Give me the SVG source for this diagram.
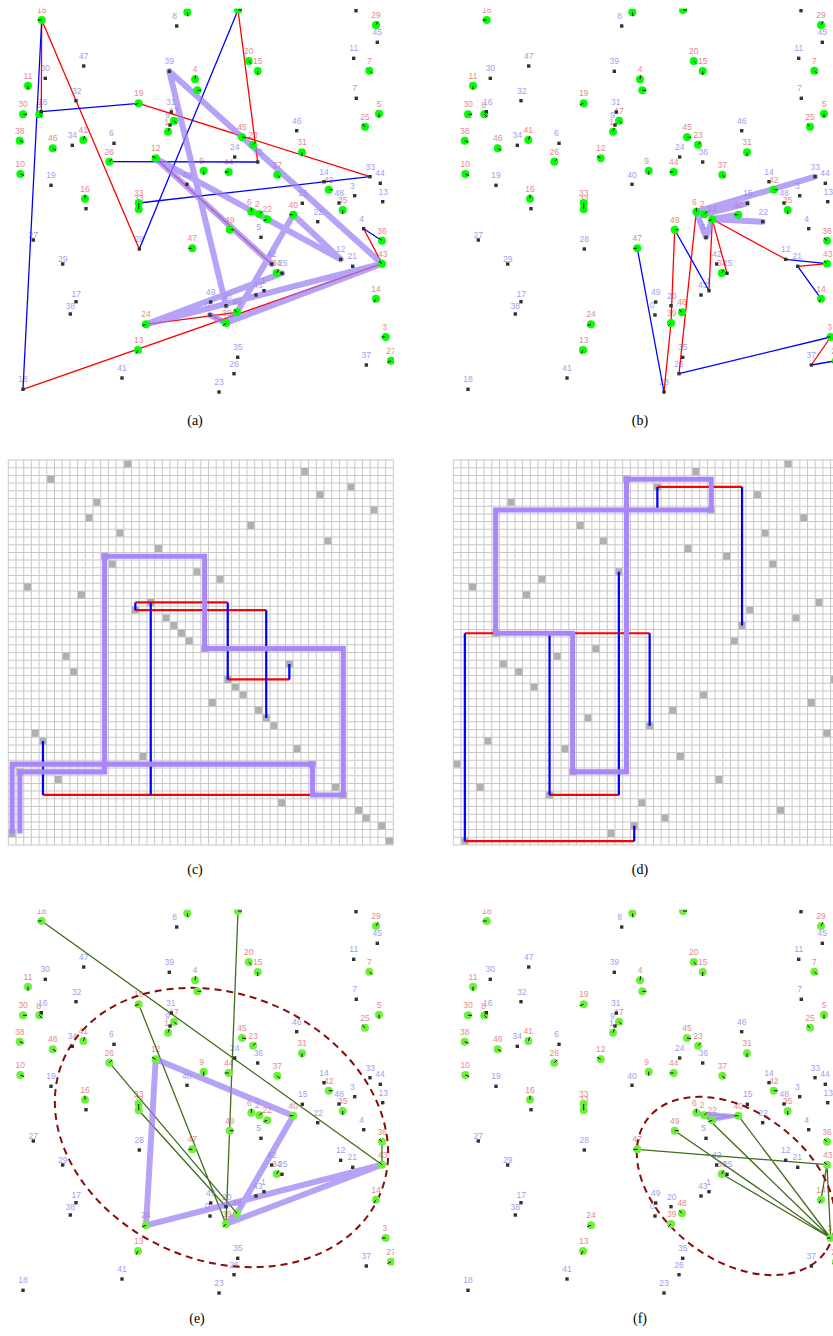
<svg xmlns="http://www.w3.org/2000/svg" xmlns:xlink="http://www.w3.org/1999/xlink" width="833" height="1336" viewBox="0 0 833 1336">
<style>
.lb text{font-family:"Liberation Sans",Arial,sans-serif;font-size:8.5px;text-anchor:middle}
.r{fill:#e48c8c}
.b{fill:#a0a0f0}
.sq rect{fill:#333}
.tk{stroke:#000;stroke-width:0.9;fill:none}
.red{stroke:#f00;stroke-width:1.3;fill:none}
.blue{stroke:#00f;stroke-width:1.3;fill:none}
.pur{stroke:#9a7ef2;stroke-opacity:0.72;stroke-width:6;fill:none;stroke-linecap:round;stroke-linejoin:round}
.dg{stroke:#3f6e1c;stroke-width:1.3;fill:none}
.ell{fill:none;stroke:#8b0a0a;stroke-width:2;stroke-dasharray:7,5}
.grid{stroke:#c8c8c8;stroke-width:0.13;fill:none}
.cell{fill:#b0b0b0}
.gred{stroke:#f00;stroke-width:0.29;fill:none}
.gblue{stroke:#00f;stroke-width:0.29;fill:none}
.gpur{stroke:#a987fb;stroke-width:0.66;fill:none;stroke-linejoin:miter}
.cap{font-family:"Liberation Serif","Times New Roman",serif;font-size:14px;text-anchor:middle;fill:#000}
</style>
<defs>
<clipPath id="ca"><rect x="0" y="8.5" width="394" height="400"/></clipPath>
<clipPath id="cb"><rect x="445" y="8.5" width="394" height="400"/></clipPath>
<clipPath id="ce"><rect x="0" y="909.5" width="394" height="400"/></clipPath>
<clipPath id="cf"><rect x="445" y="909.5" width="394" height="400"/></clipPath>
<g id="lbl" class="lb">
<text class="r" x="41.7" y="13">18</text><text class="r" x="376" y="18">29</text><text class="r" x="248.7" y="54">20</text><text class="r" x="257.7" y="64">15</text><text class="r" x="369.3" y="63.7">7</text><text class="r" x="195" y="72.3">4</text><text class="r" x="28" y="78.7">11</text><text class="r" x="138.7" y="96.3">19</text><text class="r" x="379" y="106.7">5</text><text class="r" x="23" y="107.3">30</text><text class="r" x="38.5" y="107.5">8</text><text class="r" x="174" y="113.7">17</text><text class="r" x="166.5" y="124.7">1</text><text class="r" x="365" y="119.7">25</text><text class="r" x="19.7" y="133.7">38</text><text class="r" x="52.7" y="141.3">46</text><text class="r" x="83.3" y="133">41</text><text class="r" x="242" y="130">45</text><text class="r" x="253" y="137.7">23</text><text class="r" x="302" y="145.3">31</text><text class="r" x="155.7" y="151.3">12</text><text class="r" x="109.3" y="154.7">26</text><text class="r" x="20.3" y="167">10</text><text class="r" x="201.7" y="163.7">9</text><text class="r" x="228.7" y="165">44</text><text class="r" x="277.3" y="167.7">37</text><text class="r" x="328.7" y="182.7">42</text><text class="r" x="342.7" y="203">35</text><text class="r" x="85" y="191.7">16</text><text class="r" x="138.7" y="196">33</text><text class="r" x="138.7" y="201">33</text><text class="r" x="249.3" y="204.7">6</text><text class="r" x="257" y="207.3">2</text><text class="r" x="267.3" y="212.3">22</text><text class="r" x="293.3" y="207.7">40</text><text class="r" x="229.7" y="222.7">49</text><text class="r" x="192.3" y="241.3">47</text><text class="r" x="382" y="233.7">36</text><text class="r" x="382.7" y="256.7">43</text><text class="r" x="276.7" y="266">34</text><text class="r" x="376" y="291.7">14</text><text class="r" x="237" y="305.3">48</text><text class="r" x="226.7" y="316">39</text><text class="r" x="146" y="317.3">24</text><text class="r" x="384.7" y="330">3</text><text class="r" x="391" y="353.7">27</text><text class="r" x="138.7" y="343">13</text>
<text class="b" x="174.5" y="19">8</text><text class="b" x="377.3" y="35.3">45</text><text class="b" x="83.7" y="59">47</text><text class="b" x="353.7" y="51.3">11</text><text class="b" x="169.3" y="64.3">39</text><text class="b" x="45.3" y="71.3">30</text><text class="b" x="354.7" y="91.3">7</text><text class="b" x="76.7" y="93.7">32</text><text class="b" x="42.7" y="104.7">16</text><text class="b" x="170.7" y="104.7">31</text><text class="b" x="167.7" y="118">9</text><text class="b" x="72.3" y="138.3">34</text><text class="b" x="111.3" y="136.3">6</text><text class="b" x="296.7" y="123.7">46</text><text class="b" x="234.7" y="150">24</text><text class="b" x="258.3" y="155">36</text><text class="b" x="187" y="177.6">40</text><text class="b" x="51" y="178.3">19</text><text class="b" x="370.3" y="169.7">33</text><text class="b" x="380" y="176.3">44</text><text class="b" x="324" y="174.7">14</text><text class="b" x="352.3" y="188.7">3</text><text class="b" x="383.3" y="194.7">13</text><text class="b" x="339.3" y="196">48</text><text class="b" x="302.7" y="196.3">15</text><text class="b" x="33.3" y="238">27</text><text class="b" x="62.7" y="262">29</text><text class="b" x="76.3" y="296.7">17</text><text class="b" x="70.3" y="309">38</text><text class="b" x="139.3" y="242">28</text><text class="b" x="318.3" y="214.7">22</text><text class="b" x="258.7" y="230.3">5</text><text class="b" x="361.7" y="221.7">4</text><text class="b" x="340.7" y="252.3">12</text><text class="b" x="352.3" y="259.3">21</text><text class="b" x="271.7" y="257">42</text><text class="b" x="282.7" y="266.3">25</text><text class="b" x="263.3" y="283.7">1</text><text class="b" x="257.7" y="288.3">43</text><text class="b" x="210.7" y="295">49</text><text class="b" x="226.7" y="298.7">20</text><text class="b" x="207.3" y="308">0</text><text class="b" x="237.7" y="350.3">35</text><text class="b" x="234" y="366.7">26</text><text class="b" x="219" y="385">23</text><text class="b" x="122" y="371">41</text><text class="b" x="366.3" y="358">37</text><text class="b" x="23" y="382.3">18</text>
</g>
<g id="greens">
<g id="n-g18"><circle cx="41.7" cy="20" r="4"/><path class="tk" d="M41.7 20l-4 0"/></g>
<g id="n-gA"><circle cx="187.3" cy="12.3" r="4"/><path class="tk" d="M187.3 12.3l0.7 4"/></g>
<g id="n-gB"><circle cx="238" cy="10" r="4"/><path class="tk" d="M238 10l4 0"/></g>
<g id="n-g29"><circle cx="376" cy="25" r="4"/><path class="tk" d="M376 25l2 -3.5"/></g>
<g id="n-g20"><circle cx="248.7" cy="61" r="4"/><path class="tk" d="M248.7 61l2.8 2.8"/></g>
<g id="n-g15"><circle cx="257.7" cy="71" r="4"/><path class="tk" d="M257.7 71l0 4"/></g>
<g id="n-g7"><circle cx="369.3" cy="70.7" r="4"/><path class="tk" d="M369.3 70.7l2.8 2.8"/></g>
<g id="n-g4"><circle cx="195" cy="79.3" r="4"/><path class="tk" d="M195 79.3l0.7 -4"/></g>
<g id="n-gC"><circle cx="197.3" cy="90.3" r="4"/><path class="tk" d="M197.3 90.3l4 0"/></g>
<g id="n-g11"><circle cx="28" cy="85.7" r="4"/><path class="tk" d="M28 85.7l0 4"/></g>
<g id="n-g19"><circle cx="138.7" cy="103.3" r="4"/><path class="tk" d="M138.7 103.3l-3.8 1.4"/></g>
<g id="n-g5"><circle cx="379" cy="113.7" r="4"/><path class="tk" d="M379 113.7l0 4"/></g>
<g id="n-g30"><circle cx="23" cy="114.3" r="4"/><path class="tk" d="M23 114.3l4 0"/></g>
<g id="n-g8"><circle cx="39.3" cy="114.3" r="4"/><path class="tk" d="M39.3 114.3l2.8 2.8"/></g>
<g id="n-g17"><circle cx="174" cy="120.7" r="4"/><path class="tk" d="M174 120.7l2.8 2.8"/></g>
<g id="n-g1"><circle cx="168" cy="131.7" r="4"/><path class="tk" d="M168 131.7l1.4 -3.8"/></g>
<g id="n-g25"><circle cx="365" cy="126.7" r="4"/><path class="tk" d="M365 126.7l-2.8 -2.8"/></g>
<g id="n-g38"><circle cx="19.7" cy="140.7" r="4"/><path class="tk" d="M19.7 140.7l3.7 1.5"/></g>
<g id="n-g46"><circle cx="52.7" cy="148.3" r="4"/><path class="tk" d="M52.7 148.3l3.5 2"/></g>
<g id="n-g41"><circle cx="83.3" cy="140" r="4"/><path class="tk" d="M83.3 140l1.4 -3.8"/></g>
<g id="n-g45"><circle cx="242" cy="137" r="4"/><path class="tk" d="M242 137l4 0.7"/></g>
<g id="n-g23"><circle cx="253" cy="144.7" r="4"/><path class="tk" d="M253 144.7l2.8 -2.8"/></g>
<g id="n-g31"><circle cx="302" cy="152.3" r="4"/><path class="tk" d="M302 152.3l0 4"/></g>
<g id="n-g12"><circle cx="155.7" cy="158.3" r="4"/><path class="tk" d="M155.7 158.3l-3.5 -2"/></g>
<g id="n-g26"><circle cx="109.3" cy="161.7" r="4"/><path class="tk" d="M109.3 161.7l2.8 -2.8"/></g>
<g id="n-g10"><circle cx="20.3" cy="174" r="4"/><path class="tk" d="M20.3 174l3.7 1.5"/></g>
<g id="n-g9"><circle cx="203.7" cy="170.7" r="4"/><path class="tk" d="M203.7 170.7l0 4"/></g>
<g id="n-g44"><circle cx="228.7" cy="172" r="4"/><path class="tk" d="M228.7 172l-4 0"/></g>
<g id="n-g37"><circle cx="277.3" cy="174.7" r="4"/><path class="tk" d="M277.3 174.7l2.5 3"/></g>
<g id="n-g42"><circle cx="328.7" cy="189.7" r="4"/><path class="tk" d="M328.7 189.7l4 0"/></g>
<g id="n-g35"><circle cx="342.7" cy="210" r="4"/><path class="tk" d="M342.7 210l0 4"/></g>
<g id="n-g16"><circle cx="85" cy="198.7" r="4"/><path class="tk" d="M85 198.7l0 -4"/></g>
<g id="n-g33"><circle cx="138.7" cy="203" r="4"/><path class="tk" d="M138.7 203l0 4"/></g>
<g id="n-g33b"><circle cx="138.7" cy="209.3" r="4"/><path class="tk" d="M138.7 209.3l0 -4"/></g>
<g id="n-g6"><circle cx="251.3" cy="211.7" r="4"/><path class="tk" d="M251.3 211.7l0 -4"/></g>
<g id="n-g2"><circle cx="259.3" cy="214.3" r="4"/><path class="tk" d="M259.3 214.3l2.8 -2.8"/></g>
<g id="n-g22"><circle cx="267.3" cy="219.3" r="4"/><path class="tk" d="M267.3 219.3l-3.8 1.4"/></g>
<g id="n-g40"><circle cx="293.3" cy="214.7" r="4"/><path class="tk" d="M293.3 214.7l-4 0"/></g>
<g id="n-g49"><circle cx="229.7" cy="229.7" r="4"/><path class="tk" d="M229.7 229.7l4 0"/></g>
<g id="n-g47"><circle cx="192.3" cy="248.3" r="4"/><path class="tk" d="M192.3 248.3l-4 0"/></g>
<g id="n-g36"><circle cx="382" cy="240.7" r="4"/><path class="tk" d="M382 240.7l-3 -2.6"/></g>
<g id="n-g43"><circle cx="382" cy="263.7" r="4"/><path class="tk" d="M382 263.7l-3 -2.6"/></g>
<g id="n-g34"><circle cx="276.7" cy="273" r="4"/><path class="tk" d="M276.7 273l2 -3.5"/></g>
<g id="n-g14"><circle cx="376" cy="298.7" r="4"/><path class="tk" d="M376 298.7l-2 3.5"/></g>
<g id="n-g48"><circle cx="237" cy="312.3" r="4"/><path class="tk" d="M237 312.3l-2.8 -2.8"/></g>
<g id="n-g39"><circle cx="226" cy="323" r="4"/><path class="tk" d="M226 323l-2.8 2.8"/></g>
<g id="n-g24"><circle cx="146" cy="324.3" r="4"/><path class="tk" d="M146 324.3l-3.8 1.4"/></g>
<g id="n-g3"><circle cx="385.7" cy="337" r="4"/><path class="tk" d="M385.7 337l-4 0"/></g>
<g id="n-g27"><circle cx="391" cy="360.7" r="4"/><path class="tk" d="M391 360.7l-3.5 2"/></g>
<g id="n-g13"><circle cx="138" cy="350" r="4"/><path class="tk" d="M138 350l-2 3.5"/></g>
</g>
<g id="squares" class="sq">
<rect id="n-s8" x="175" y="24.3" width="3.4" height="3.4"/><rect id="n-s2" x="354.3" y="9" width="3.4" height="3.4"/><rect id="n-s45" x="375.6" y="40.6" width="3.4" height="3.4"/><rect id="n-s47" x="82" y="64.3" width="3.4" height="3.4"/><rect id="n-s11" x="352" y="56.6" width="3.4" height="3.4"/><rect id="n-s39" x="167.6" y="69.6" width="3.4" height="3.4"/><rect id="n-s30" x="43.6" y="76.6" width="3.4" height="3.4"/><rect id="n-s7" x="354.6" y="96.6" width="3.4" height="3.4"/><rect id="n-s32" x="74.3" y="99" width="3.4" height="3.4"/><rect id="n-s16" x="39.6" y="110" width="3.4" height="3.4"/><rect id="n-s31" x="169.6" y="110.3" width="3.4" height="3.4"/><rect id="n-s9" x="168.3" y="123.3" width="3.4" height="3.4"/><rect id="n-s34" x="70.6" y="143.6" width="3.4" height="3.4"/><rect id="n-s6" x="112.3" y="141.6" width="3.4" height="3.4"/><rect id="n-s46" x="295" y="129" width="3.4" height="3.4"/><rect id="n-s24" x="233" y="155.3" width="3.4" height="3.4"/><rect id="n-s36" x="256" y="160.3" width="3.4" height="3.4"/><rect id="n-s40" x="185.3" y="182.6" width="3.4" height="3.4"/><rect id="n-s19" x="49.3" y="183.6" width="3.4" height="3.4"/><rect id="n-s33" x="368.3" y="175" width="3.4" height="3.4"/><rect id="n-s44" x="378.6" y="181.6" width="3.4" height="3.4"/><rect id="n-s14" x="322.3" y="180" width="3.4" height="3.4"/><rect id="n-s3" x="353" y="194" width="3.4" height="3.4"/><rect id="n-s13" x="381" y="200" width="3.4" height="3.4"/><rect id="n-s48" x="337.3" y="201.3" width="3.4" height="3.4"/><rect id="n-s15" x="300.6" y="201.6" width="3.4" height="3.4"/><rect id="n-s10" x="84.3" y="207" width="3.4" height="3.4"/><rect id="n-s27" x="31.6" y="238.3" width="3.4" height="3.4"/><rect id="n-s29" x="61" y="262.3" width="3.4" height="3.4"/><rect id="n-s17" x="74.3" y="300" width="3.4" height="3.4"/><rect id="n-s38" x="68.6" y="312.3" width="3.4" height="3.4"/><rect id="n-s28" x="137.6" y="247.3" width="3.4" height="3.4"/><rect id="n-s22" x="316" y="220" width="3.4" height="3.4"/><rect id="n-s5" x="259.3" y="235.6" width="3.4" height="3.4"/><rect id="n-s4" x="362" y="227" width="3.4" height="3.4"/><rect id="n-s12" x="339" y="257.6" width="3.4" height="3.4"/><rect id="n-s21" x="351" y="264.6" width="3.4" height="3.4"/><rect id="n-s42" x="270" y="262.3" width="3.4" height="3.4"/><rect id="n-s25" x="280.3" y="271.6" width="3.4" height="3.4"/><rect id="n-s1" x="262.3" y="289" width="3.4" height="3.4"/><rect id="n-s43" x="254.3" y="293.3" width="3.4" height="3.4"/><rect id="n-s49" x="209" y="300.3" width="3.4" height="3.4"/><rect id="n-s20" x="224.3" y="304" width="3.4" height="3.4"/><rect id="n-s0" x="208.3" y="313.3" width="3.4" height="3.4"/><rect id="n-s35" x="236" y="355.6" width="3.4" height="3.4"/><rect id="n-s26" x="232.3" y="372" width="3.4" height="3.4"/><rect id="n-s23" x="217.3" y="390.3" width="3.4" height="3.4"/><rect id="n-s41" x="120.3" y="376.3" width="3.4" height="3.4"/><rect id="n-s37" x="364.6" y="363.3" width="3.4" height="3.4"/><rect id="n-s18" x="21.3" y="387.6" width="3.4" height="3.4"/>
</g>
<path id="gridlines" class="grid" d="M0 0v50M1 0v50M2 0v50M3 0v50M4 0v50M5 0v50M6 0v50M7 0v50M8 0v50M9 0v50M10 0v50M11 0v50M12 0v50M13 0v50M14 0v50M15 0v50M16 0v50M17 0v50M18 0v50M19 0v50M20 0v50M21 0v50M22 0v50M23 0v50M24 0v50M25 0v50M26 0v50M27 0v50M28 0v50M29 0v50M30 0v50M31 0v50M32 0v50M33 0v50M34 0v50M35 0v50M36 0v50M37 0v50M38 0v50M39 0v50M40 0v50M41 0v50M42 0v50M43 0v50M44 0v50M45 0v50M46 0v50M47 0v50M48 0v50M49 0v50M50 0v50M0 0h50M0 1h50M0 2h50M0 3h50M0 4h50M0 5h50M0 6h50M0 7h50M0 8h50M0 9h50M0 10h50M0 11h50M0 12h50M0 13h50M0 14h50M0 15h50M0 16h50M0 17h50M0 18h50M0 19h50M0 20h50M0 21h50M0 22h50M0 23h50M0 24h50M0 25h50M0 26h50M0 27h50M0 28h50M0 29h50M0 30h50M0 31h50M0 32h50M0 33h50M0 34h50M0 35h50M0 36h50M0 37h50M0 38h50M0 39h50M0 40h50M0 41h50M0 42h50M0 43h50M0 44h50M0 45h50M0 46h50M0 47h50M0 48h50M0 49h50M0 50h50"/>
</defs>
<rect width="833" height="1336" fill="#fff"/>

<!-- panel a -->
<g id="panel-a" clip-path="url(#ca)">
<use href="#lbl"/>
<g id="connectors-a">
<path class="red" d="M41.7 20L41.3 111.7M41.7 20L139.3 249M138.7 103.3L370 176.7M238 10L257.7 162M363.7 228.7L382 263.7M23 389.3L382 263.7M155.7 158.3L271.7 264M146 324.3L237 312.3M210 315L226 323"/>
<path class="blue" d="M41.7 20L23 389.3M41.3 111.7L138.7 103.3M109.3 161.7L257.7 162M238 10L139.3 249M138.7 203L370 176.7M363.7 228.7L382 240.7"/>
<path class="pur" d="M169.3 71.3L226 305.7M169.3 71.3L382 263.7M155.7 158.3L340.7 259.3M155.7 158.3L271.7 264M293.3 214.7L340.7 259.3M293.3 214.7L237 312.3M146 324.3L282 273.3M146 324.3L382 263.7M226 323L382 263.7M210 315L226 323L237 312.3"/>
</g>
<use href="#greens" fill="#00ff00"/>
<use href="#squares"/>
</g>

<!-- panel b -->
<g id="panel-b" clip-path="url(#cb)">
<g transform="translate(445,0)">
<use href="#lbl"/>
<g id="connectors-b">
<path class="red" d="M229.7 229.7L226 323L219 392M264 290.7L267.3 219.3M251.3 211.7L234 373.7M267.3 219.3L282 273.3M267.3 219.3L340.7 259.3M352.7 266.3L382 263.7M385.7 337L366.3 365"/>
<path class="blue" d="M192.3 248.3L219 392M229.7 229.7L264 290.7M340.7 259.3L382 263.7M352.7 266.3L376 298.7M234 373.7L385.7 337M366.3 365L391 360.7"/>
<path class="pur" d="M251.3 211.7L261 237.3L267.3 219.3M251.3 211.7L370 176.7M259.3 214.3L302.3 203.3M267.3 219.3L293.3 214.7M267.3 219.3L317.7 221.7"/>
</g>
<use href="#greens" fill="#00ff00"/>
<use href="#squares"/>
</g>
</g>

<!-- panel c -->
<g id="panel-c" transform="translate(8.3,460) scale(7.7)">
<use href="#gridlines"/>
<path class="cell" d="M15.05 0.05h.9v.9h-.9zM5.05 2.05h.9v.9h-.9zM38.05 1.05h.9v.9h-.9zM44.05 3.05h.9v.9h-.9zM40.05 4.05h.9v.9h-.9zM47.05 6.05h.9v.9h-.9zM11.05 5.05h.9v.9h-.9zM10.05 7.05h.9v.9h-.9zM31.05 8.05h.9v.9h-.9zM41.05 10.05h.9v.9h-.9zM14.05 9.05h.9v.9h-.9zM19.05 11.05h.9v.9h-.9zM12.05 12.05h.9v.9h-.9zM13.05 13.05h.9v.9h-.9zM24.05 14.05h.9v.9h-.9zM27.05 15.05h.9v.9h-.9zM2.05 16.05h.9v.9h-.9zM9.05 17.05h.9v.9h-.9zM18.05 18.05h.9v.9h-.9zM16.05 19.05h.9v.9h-.9zM20.05 20.05h.9v.9h-.9zM21.05 21.05h.9v.9h-.9zM22.05 22.05h.9v.9h-.9zM23.05 23.05h.9v.9h-.9zM25.05 24.05h.9v.9h-.9zM7.05 25.05h.9v.9h-.9zM8.05 27.05h.9v.9h-.9zM36.05 26.05h.9v.9h-.9zM28.05 28.05h.9v.9h-.9zM29.05 29.05h.9v.9h-.9zM30.05 30.05h.9v.9h-.9zM26.05 31.05h.9v.9h-.9zM32.05 32.05h.9v.9h-.9zM33.05 33.05h.9v.9h-.9zM34.05 34.05h.9v.9h-.9zM37.05 37.05h.9v.9h-.9zM3.05 35.05h.9v.9h-.9zM4.05 36.05h.9v.9h-.9zM17.05 38.05h.9v.9h-.9zM39.05 39.05h.9v.9h-.9zM1.05 40.05h.9v.9h-.9zM6.05 41.05h.9v.9h-.9zM42.05 42.05h.9v.9h-.9zM43.05 43.05h.9v.9h-.9zM35.05 44.05h.9v.9h-.9zM45.05 45.05h.9v.9h-.9zM46.05 46.05h.9v.9h-.9zM48.05 47.05h.9v.9h-.9zM0.05 48.05h.9v.9h-.9zM49.05 49.05h.9v.9h-.9z"/>
<g id="connectors-c">
<path class="gred" d="M16.5 18.5H28.5M16.5 19.5H33.5M28.5 28.5H36.5M4.5 43.5H39.5"/>
<path class="gblue" d="M16.5 18.5V19.5M28.5 18.5V28.5M33.5 19.5V33.5M18.5 18.5V43.5M36.5 26.5V28.5M4.5 36.5V43.5"/>
<path class="gpur" d="M0.5 48.5V39.5H39.5V43.5H43.5V24.5H25.5V12.5H12.5V40.5H1.5V48.5"/>
</g>
</g>

<!-- panel d -->
<g id="panel-d" transform="translate(453.3,460) scale(7.7)">
<use href="#gridlines"/>
<path class="cell" d="M43.05 0.05h.9v.9h-.9zM31.05 1.05h.9v.9h-.9zM22.05 2.05h.9v.9h-.9zM26.05 3.05h.9v.9h-.9zM39.05 4.05h.9v.9h-.9zM7.05 5.05h.9v.9h-.9zM33.05 6.05h.9v.9h-.9zM45.05 7.05h.9v.9h-.9zM16.05 8.05h.9v.9h-.9zM40.05 9.05h.9v.9h-.9zM19.05 10.05h.9v.9h-.9zM30.05 11.05h.9v.9h-.9zM35.05 12.05h.9v.9h-.9zM41.05 13.05h.9v.9h-.9zM21.05 14.05h.9v.9h-.9zM11.05 15.05h.9v.9h-.9zM2.05 16.05h.9v.9h-.9zM9.05 17.05h.9v.9h-.9zM47.05 18.05h.9v.9h-.9zM38.05 19.05h.9v.9h-.9zM44.05 20.05h.9v.9h-.9zM37.05 21.05h.9v.9h-.9zM5.05 22.05h.9v.9h-.9zM36.05 23.05h.9v.9h-.9zM18.05 24.05h.9v.9h-.9zM13.05 25.05h.9v.9h-.9zM6.05 26.05h.9v.9h-.9zM8.05 27.05h.9v.9h-.9zM49.05 28.05h.9v.9h-.9zM10.05 29.05h.9v.9h-.9zM32.05 30.05h.9v.9h-.9zM46.05 31.05h.9v.9h-.9zM28.05 32.05h.9v.9h-.9zM17.05 33.05h.9v.9h-.9zM25.05 34.05h.9v.9h-.9zM48.05 35.05h.9v.9h-.9zM4.05 36.05h.9v.9h-.9zM14.05 37.05h.9v.9h-.9zM29.05 38.05h.9v.9h-.9zM0.05 39.05h.9v.9h-.9zM15.05 40.05h.9v.9h-.9zM34.05 41.05h.9v.9h-.9zM3.05 42.05h.9v.9h-.9zM12.05 43.05h.9v.9h-.9zM24.05 44.05h.9v.9h-.9zM42.05 45.05h.9v.9h-.9zM27.05 46.05h.9v.9h-.9zM23.05 47.05h.9v.9h-.9zM20.05 48.05h.9v.9h-.9zM1.05 49.05h.9v.9h-.9z"/>
<g id="connectors-d">
<path class="gred" d="M26.5 3.5H37.5M1.5 22.5H25.5M12.5 43.5H21.5M1.5 49.5H23.5"/>
<path class="gblue" d="M26.5 3.5V6.5M37.5 3.5V21.5M21.5 14.5V43.5M1.5 22.5V49.5M12.5 22.5V43.5M25.5 22.5V34.5M23.5 47.5V49.5"/>
<path class="gpur" d="M22.5 2.5H33.5V6.5H5.5V22.5H15.5V40.5H22.5Z"/>
</g>
</g>

<!-- panel e -->
<g id="panel-e" clip-path="url(#ce)">
<g transform="translate(0,901)">
<use href="#lbl"/>
<g id="connectors-e">
<path class="dg" d="M41.7 20L382 263.7M238 10L226 323M138.7 103.3L226 323M109.3 161.7L237 312.3M138.7 209.3L226 305.7M382 240.7L382 263.7"/>
<path class="pur" d="M155.7 158.3L146 324.3M155.7 158.3L293.3 214.7M293.3 214.7L237 312.3M146 324.3L382 263.7M226 323L382 263.7M237 312.3L226 323"/>
<ellipse class="ell" cx="221.5" cy="226.5" rx="172" ry="133" transform="rotate(23 221.5 226.5)"/>
</g>
<use href="#greens" fill="#6cf03a"/>
<use href="#squares"/>
</g>
</g>

<!-- panel f -->
<g id="panel-f" clip-path="url(#cf)">
<g transform="translate(445,901)">
<use href="#lbl"/>
<g id="connectors-f">
<path class="dg" d="M192.3 248.3L382 263.7M229.7 229.7L385.7 337M259.3 214.3L385.7 337M293.3 214.7L385.7 337M276.7 273L385.7 337M382 263.7L385.7 337M382 263.7L376 298.7"/>
<path d="M251.3 211.7L293.3 214.7L267.3 219.3Z" fill="#a88bf5" fill-opacity="0.8" stroke="#9a7ef2" stroke-opacity="0.7" stroke-width="3" stroke-linejoin="round"/>
<ellipse class="ell" cx="291" cy="285" rx="111" ry="74" transform="rotate(37 291 285)"/>
</g>
<use href="#greens" fill="#6cf03a"/>
<use href="#squares"/>
</g>
</g>

<g id="captions">
<text class="cap" x="195" y="425">(a)</text>
<text class="cap" x="640" y="425">(b)</text>
<text class="cap" x="195" y="874">(c)</text>
<text class="cap" x="640" y="874">(d)</text>
<text class="cap" x="197" y="1323">(e)</text>
<text class="cap" x="640" y="1323">(f)</text>
</g>
</svg>
